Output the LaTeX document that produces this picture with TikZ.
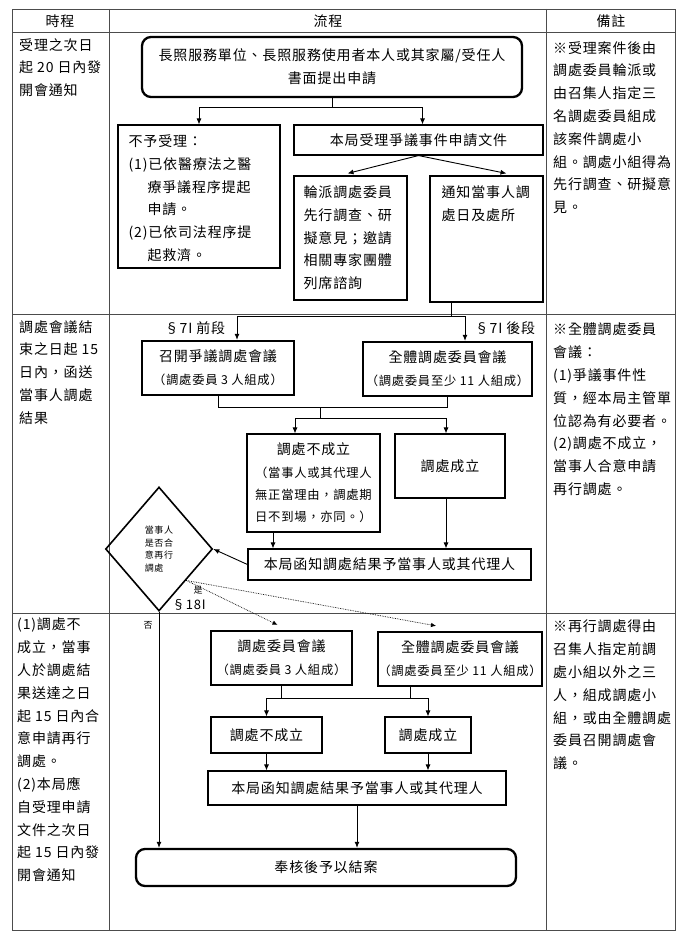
\documentclass[tikz,border=0pt]{standalone}
\usepackage{fontspec}
\setmainfont{Noto Sans CJK TC}[LetterSpace=6]
\usetikzlibrary{arrows.meta,shapes.geometric,calc}
\newcommand\fmain{\fontsize{14}{22.8}\selectfont}
\newcommand\fsmall{\fontsize{12.3}{22.3}\selectfont}
\newcommand\ftiny{\fontsize{9}{12.4}\selectfont}
\begin{document}
\begin{tikzpicture}[x=1pt,y=-1pt,
  tbl/.style={draw=black!70, line width=0.9pt},
  box/.style={draw, line width=1.1pt, inner sep=0pt, font=\fmain, align=center},
  tbox/.style={box, line width=2.3pt},
  rbox/.style={tbox, rounded corners=9pt},
  cn/.style={line width=0.9pt},
  arr/.style={cn, -{Latex[length=6pt,width=5pt]}},
  darr/.style={line width=0.7pt, densely dotted, -{Latex[length=5pt,width=4.5pt]}},
  txt/.style={inner sep=0pt, font=\fmain, align=left, anchor=north west},
  lbl/.style={inner sep=0pt, font=\fmain},
]
\useasboundingbox (0,0) rectangle (687,941);
\fill[white] (0,0) rectangle (687,941);

% table
\draw[tbl] (12,9) rectangle (675,930);
\draw[tbl] (12,32) -- (675,32);
\draw[tbl] (12,314) -- (675,314);
\draw[tbl] (12,613) -- (675,613);
\draw[tbl] (109,9) -- (109,930);
\draw[tbl] (546,9) -- (546,930);

\node[lbl] (h1) at (60,21) {時程};
\node[lbl] (h2) at (328,21) {流程};
\node[lbl] (h3) at (611,21) {備註};

% left column
\node[txt] (l1) at (19,38) {受理之次日\\起 20 日內發\\開會通知};
\node[txt] (l2) at (19,320) {調處會議結\\束之日起 15\\日內，函送\\當事人調處\\結果};
\node[txt] (l3) at (17,618) {(1)調處不\\成立，當事\\人於調處結\\果送達之日\\起 15 日內合\\意申請再行\\調處。\\(2)本局應\\自受理申請\\文件之次日\\起 15 日內發\\開會通知};

% right column
\node[txt] (c1) at (553,41) {※受理案件後由\\調處委員輪派或\\由召集人指定三\\名調處委員組成\\該案件調處小\\組。調處小組得為\\先行調查、研擬意\\見。};
\node[txt] (c2) at (553,323) {※全體調處委員\\會議：\\(1)爭議事件性\\質，經本局主管單\\位認為有必要者。\\(2)調處不成立，\\當事人合意申請\\再行調處。};
\node[txt] (c3) at (553,620) {※再行調處得由\\召集人指定前調\\處小組以外之三\\人，組成調處小\\組，或由全體調處\\委員召開調處會\\議。};

% row 1 flow
\node[rbox, minimum width=380, minimum height=60] (t1) at (332,67) {長照服務單位、長照服務使用者本人或其家屬/受任人\\書面提出申請};
\node[box, minimum width=162, minimum height=143] (n1) at (199,196.5) {};
\node[txt] (n1t) at ($(n1.north west)+(11,10)$) {不予受理：\\(1)已依醫療法之醫\\\phantom{(1)}療爭議程序提起\\\phantom{(1)}申請。\\(2)已依司法程序提\\\phantom{(2)}起救濟。};
\node[box, minimum width=249, minimum height=30] (n2) at (418.5,140) {本局受理爭議事件申請文件};
\node[box, minimum width=113, minimum height=124] (n3) at (350.5,238) {};
\node[txt] (n3t) at ($(n3.north west)+(10,10)$) {輪派調處委員\\先行調查、研\\擬意見；邀請\\相關專家團體\\列席諮詢};
\node[box, minimum width=113, minimum height=126] (n4) at (486.5,239) {};
\node[txt] (n4t) at ($(n4.north west)+(12,10)$) {通知當事人調\\處日及處所};

\coordinate (j1) at ($(t1.south)+(0,9)$);
\draw[cn] (t1.south) -- (j1);
\draw[arr] (j1) -| (n1.north);
\draw[arr] (j1) -| ($(n2.north)+(4,0)$);
\draw[arr] (n2.south) -- ($(n3.north)+(-3,-2)$);
\draw[arr] (n2.south) -- ($(n4.north)+(20,-2)$);

% row 2 flow
\node[tbox, minimum width=152, minimum height=54] (r2a) at (218,368) {召開爭議調處會議\\{\fsmall（調處委員 3 人組成）}};
\node[tbox, minimum width=169, minimum height=54] (r2b) at (447.5,369) {全體調處委員會議\\{\fsmall（調處委員至少 11 人組成）}};
\coordinate (p4) at ($(n4.south west)+(22,0)$);
\coordinate (j2) at ($(p4)+(0,14)$);
\coordinate (a2a) at ($(r2a.north)+(19,0)$);
\coordinate (a2b) at ($(r2b.north)+(17.5,0)$);
\draw[cn] (p4) -- (j2);
\draw[arr] (j2) -| (a2a);
\draw[arr] (j2) -| (a2b);
\node[lbl] (lb1) at (195,328) {§7I 前段};
\node[lbl] (lb2) at (505,328) {§7I 後段};

\node[box, minimum width=133, minimum height=98, font=\fsmall] (r3a) at (313.5,483) {{\fmain 調處不成立}\\（當事人或其代理人\\無正當理由，調處期\\日不到場，亦同。）};
\node[box, minimum width=110, minimum height=64] (r3b) at (450,466) {調處成立};
\coordinate (j3) at (320,407);
\coordinate (j4) at (320,418);
\draw[cn] (r2a.south) |- (r2b.south |- j3) -- (r2b.south);
\draw[cn] (j3) -- (j4);
\coordinate (a3a) at ($(r3a.north)+(-18.5,0)$);
\coordinate (a3b) at ($(r3b.north)+(-4,0)$);
\draw[arr] (j4) -| (a3a);
\draw[arr] (j4) -| (a3b);

\node[box, minimum width=283, minimum height=31] (r4) at (389.5,564.5) {本局函知調處結果予當事人或其代理人};
\coordinate (b3a) at ($(r3a.south)+(-40.5,0)$);
\coordinate (b3b) at ($(r3b.south)+(-4,0)$);
\draw[arr] (b3a) -- (b3a |- r4.north);
\draw[arr] (b3b) -- (b3b |- r4.north);

\node[diamond, draw, line width=1.6pt, minimum width=107, minimum height=124, inner sep=0pt, font=\ftiny, align=left] (dm) at (159,549) {當事人\\是否合\\意再行\\調處};
\draw[arr] (r4.west) -- (dm.east);

% row 3 flow
\node[tbox, minimum width=141, minimum height=54] (r5a) at (281.5,658) {調處委員會議\\{\fsmall（調處委員 3 人組成）}};
\node[tbox, minimum width=162, minimum height=54] (r5b) at (460,659) {全體調處委員會議\\{\fsmall（調處委員至少 11 人組成）}};
\draw[darr] (dm.south east) -- ($(r5a.north)+(-4,-5)$);
\draw[darr] (dm.south east) -- ($(r5b.north)+(-24,-5)$);
\node[inner sep=0pt, font=\ftiny] (yes) at (198,590) {是};
\node[inner sep=0pt, font=\fontsize{13}{13}\selectfont] (s18) at (189,605) {§18I};
\node[inner sep=0pt, font=\ftiny] (no) at (148,625) {否};

\node[box, minimum width=111, minimum height=36] (r6a) at (266.5,735) {調處不成立};
\node[box, minimum width=86, minimum height=36] (r6b) at (428,735) {調處成立};
\coordinate (h5) at (0,698);
\coordinate (q5) at ($(r5b.south)+(-50,0)$);
\draw[cn] (r5a.south) -- (r5a.south |- h5);
\draw[cn] (q5) -- (q5 |- h5);
\draw[cn] (r6a.north |- h5) -- (r6b.north |- h5);
\draw[arr] (r6a.north |- h5) -- (r6a.north);
\draw[arr] (r6b.north |- h5) -- (r6b.north);

\node[box, minimum width=298, minimum height=34] (r8) at (357,788) {本局函知調處結果予當事人或其代理人};
\draw[arr] (r6a.south) -- (r6a.south |- r8.north);
\draw[arr] (r6b.south) -- (r6b.south |- r8.north);

\node[rbox, minimum width=380, minimum height=37] (r7) at (326,867.5) {奉核後予以結案};
\draw[arr] (r8.south) -- (r8.south |- r7.north);
\draw[arr] (dm.south) -- (dm.south |- r7.north);
\end{tikzpicture}
\end{document}
